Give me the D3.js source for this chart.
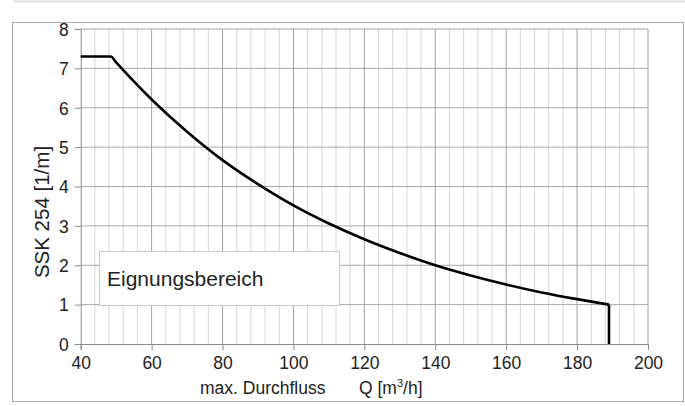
<!DOCTYPE html>
<html><head><meta charset="utf-8">
<script src="https://cdn.jsdelivr.net/npm/d3@7"></script>
<style>body{margin:0;background:#fff}svg{display:block;font-family:"Liberation Sans",Arial,sans-serif}</style>
</head><body><svg id="c" width="685" height="406"></svg>
<script>
const qValues = [40, 48.5, 50, 60, 70, 80, 90, 100, 110, 120, 130, 140, 150, 160, 170, 180, 189];
const sskValues = [7.3, 7.3, 7.15, 6.21, 5.39, 4.67, 4.06, 3.52, 3.06, 2.66, 2.31, 2.0, 1.74, 1.51, 1.31, 1.14, 1.0];
const dropQ = [189, 189];
const dropSSK = [1.0, 0];
const xTicks = [40, 60, 80, 100, 120, 140, 160, 180, 200];
const yTicks = [0, 1, 2, 3, 4, 5, 6, 7, 8];
const xMinor = d3.range(40, 201, 4);
const legendLabel = "Eignungsbereich";
const yTitle = "SSK 254 [1/m]";

const svg = d3.select("#c");
const x = d3.scaleLinear().domain([40, 200]).range([80.7, 648]);
const y = d3.scaleLinear().domain([0, 8]).range([344, 29]);

svg.append("line").attr("x1", 13).attr("x2", 685).attr("y1", 1.5).attr("y2", 1.5)
  .attr("stroke", "#e2e2e2").attr("stroke-width", 2);
svg.append("rect").attr("x", 12.5).attr("y", 22.5).attr("width", 671).attr("height", 379)
  .attr("fill", "none").attr("stroke", "#a8a8a8").attr("stroke-width", 1);

const g = svg.append("g");
g.selectAll(".vmin").data(xMinor.filter(v => v % 20 !== 0)).enter().append("line")
  .attr("x1", d => x(d)).attr("x2", d => x(d)).attr("y1", y(8)).attr("y2", y(0))
  .attr("stroke", "#d4d4d4").attr("stroke-width", 1);
g.selectAll(".vmaj").data(xTicks.slice(1)).enter().append("line")
  .attr("x1", d => x(d)).attr("x2", d => x(d)).attr("y1", y(8)).attr("y2", y(0))
  .attr("stroke", "#a0a0a0").attr("stroke-width", 1);
g.selectAll(".h").data(yTicks.slice(1)).enter().append("line")
  .attr("x1", x(40)).attr("x2", x(200)).attr("y1", d => y(d)).attr("y2", d => y(d))
  .attr("stroke", "#a8a8a8").attr("stroke-width", 1);

const xAxis = svg.append("g").attr("transform", `translate(0,${y(0)})`)
  .call(d3.axisBottom(x).tickValues(xTicks).tickSize(6).tickPadding(6));
const yAxis = svg.append("g").attr("transform", `translate(${x(40)},0)`)
  .call(d3.axisLeft(y).tickValues(yTicks).tickSize(6).tickPadding(6));
[xAxis, yAxis].forEach(a => {
  a.attr("font-size", null).attr("font-family", null);
  a.select(".domain").attr("stroke", "#8a8a8a");
  a.selectAll(".tick line").attr("stroke", "#8a8a8a");
  a.selectAll(".tick text").attr("fill", "#222").style("font-size", "17.5px");
});
xAxis.selectAll(".tick text").attr("y", 12).attr("dy", "0.72em");
yAxis.selectAll(".tick text").attr("x", -12).attr("dy", "0.36em");

svg.append("rect").attr("x", 99.5).attr("y", 251.5).attr("width", 240).attr("height", 54)
  .attr("fill", "#fff").attr("stroke", "#c8c8c8");
svg.append("text").attr("x", 107).attr("y", 286).attr("fill", "#222").style("font-size", "21px")
  .text(legendLabel);

const pts = qValues.map((q, i) => [q, sskValues[i]]);
svg.append("path").datum(pts)
  .attr("d", d3.line().x(d => x(d[0])).y(d => y(d[1])).curve(d3.curveMonotoneX))
  .attr("fill", "none").attr("stroke", "#000").attr("stroke-width", 2.6).attr("stroke-linejoin", "round");
svg.append("path").datum(dropQ.map((q, i) => [q, dropSSK[i]]))
  .attr("d", d3.line().x(d => x(d[0])).y(d => y(d[1])))
  .attr("fill", "none").attr("stroke", "#000").attr("stroke-width", 2.6);

svg.append("text").attr("transform", "translate(48.5,212) rotate(-90)").attr("text-anchor", "middle")
  .attr("fill", "#222").style("font-size", "20.5px").text(yTitle);
svg.append("text").attr("x", 200).attr("y", 394).attr("fill", "#222").style("font-size", "17.5px")
  .text("max. Durchfluss");
const q = svg.append("text").attr("x", 359).attr("y", 394).attr("fill", "#222").style("font-size", "17.5px");
q.append("tspan").text("Q [m");
q.append("tspan").attr("dy", -7).style("font-size", "11px").text("3");
q.append("tspan").attr("dy", 7).text("/h]");
</script></body></html>
